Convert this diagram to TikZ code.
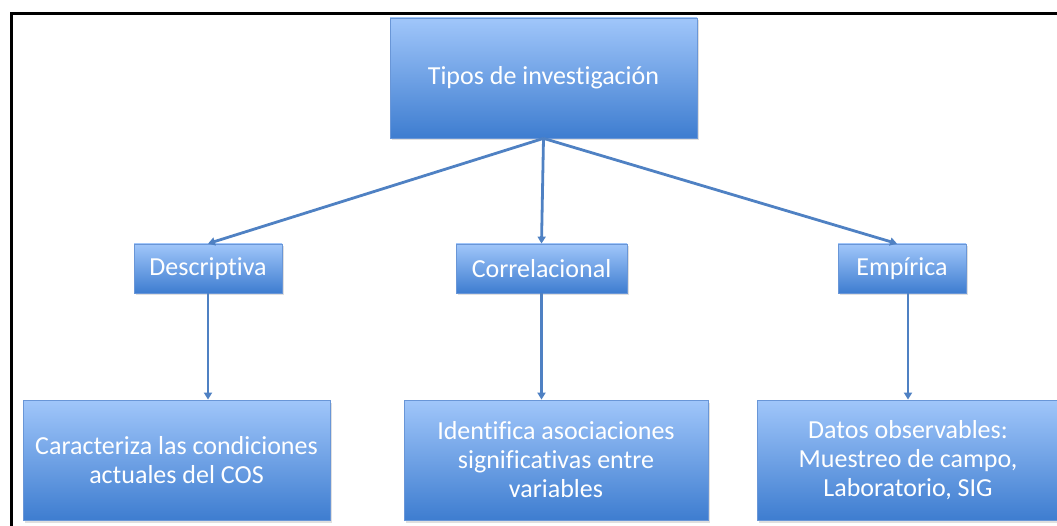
\documentclass[tikz,border=0pt]{standalone}
\usepackage{fontspec}
\setmainfont{Carlito}[Ligatures=NoCommon]
\usetikzlibrary{arrows.meta,shadows}
\definecolor{boxtop}{RGB}{160,198,250}
\definecolor{boxbot}{RGB}{62,125,208}
\definecolor{boxedge}{RGB}{105,150,215}
\definecolor{linkcol}{RGB}{79,129,195}
\tikzset{
  ibox/.style={draw=boxedge, line width=0.8pt, top color=boxtop, bottom color=boxbot,
    text=white, align=center, inner sep=0pt,
    font=\fontsize{26}{29}\selectfont,
    drop shadow={opacity=0.25, shadow xshift=1.5pt, shadow yshift=-2.5pt}},
  link/.style={draw=linkcol, line width=2.8pt, -{Triangle[length=7pt,width=8pt]}}
}
\begin{document}
\begin{tikzpicture}[x=1pt,y=-1pt]
\useasboundingbox (0,0) rectangle (1057,526);
\draw[line width=3pt, black] (11.5,530) -- (11.5,13.5) -- (1062,13.5);
\node[ibox, minimum width=307pt, minimum height=120pt] (top) at (543.5,78) {Tipos de investigación};
\node[ibox, minimum width=148pt, minimum height=49pt] (desc) at (208,268.5) {Descriptiva};
\node[ibox, minimum width=171pt, minimum height=49pt] (corr) at (541.5,268.5) {Correlacional};
\node[ibox, minimum width=128pt, minimum height=49pt] (emp) at (902,268.5) {Empírica};
\node[ibox, minimum width=307pt, minimum height=120pt] (bl) at (176.5,460) {Caracteriza las condiciones\\actuales del COS};
\node[ibox, minimum width=304pt, minimum height=120pt] (bm) at (556,460) {Identifica asociaciones\\significativas entre\\variables};
\node[ibox, minimum width=302pt, minimum height=120pt] (br) at (908,460) {Datos observables:\\Muestreo de campo,\\Laboratorio, SIG};
\draw[link] (top.south) -- (desc.north);
\draw[link] (top.south) -- (corr.north);
\draw[link] (top.south) -- ([xshift=-5pt]emp.north);
\draw[link] (desc.south) -- (desc.south |- bl.north);
\draw[link] (corr.south) -- (corr.south |- bm.north);
\draw[link] (br.north |- emp.south) -- (br.north);
\end{tikzpicture}
\end{document}
